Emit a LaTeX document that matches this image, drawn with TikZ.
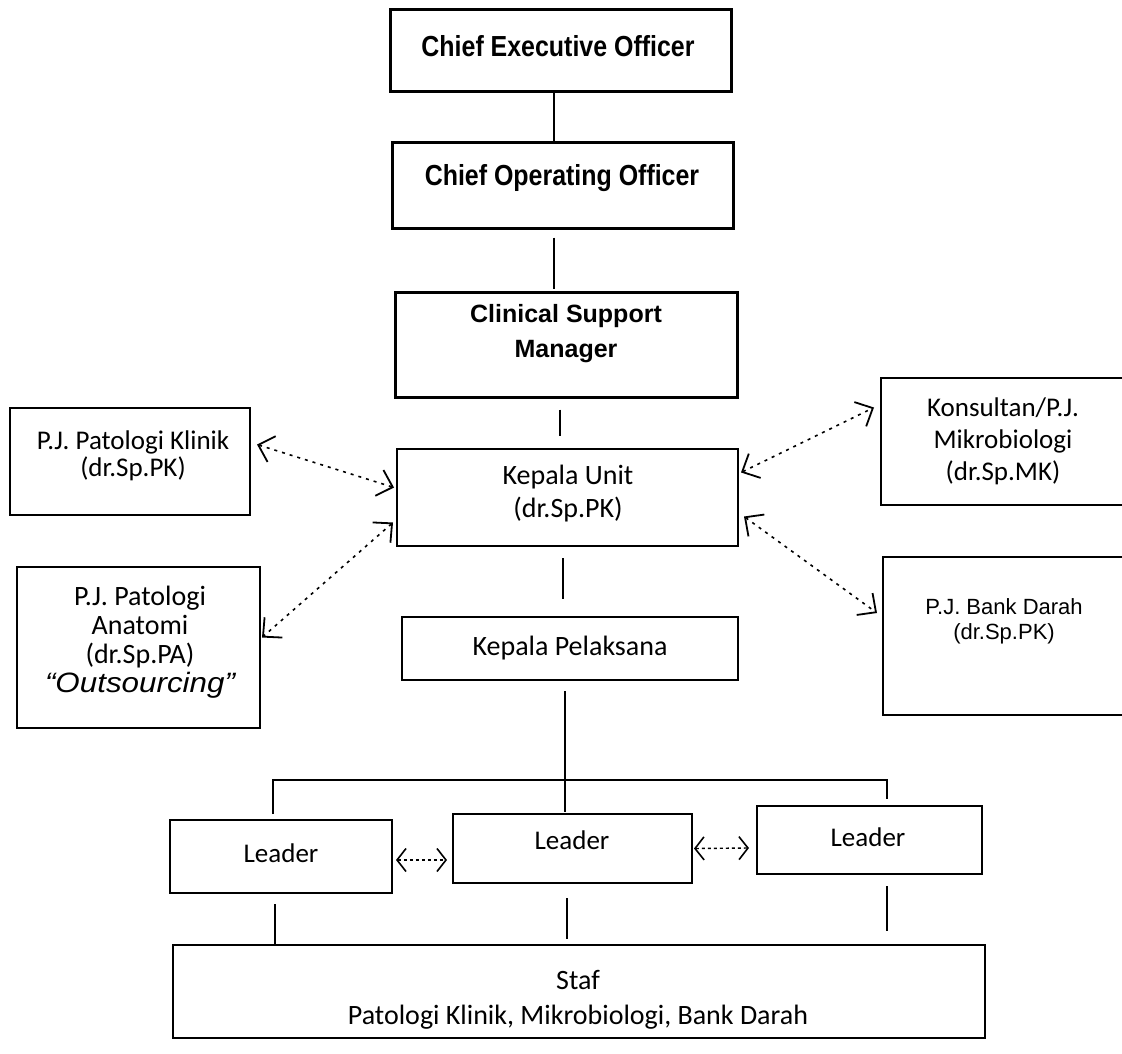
\documentclass[tikz,border=0pt]{standalone}
\usepackage{fontspec}
\setmainfont{Carlito}
\newfontfamily\arialf{Liberation Sans}
\newfontfamily\arialc[FakeStretch=0.86]{Liberation Sans}
\newfontfamily\arialw[FakeStretch=1.12]{Liberation Sans}
\usetikzlibrary{arrows.meta,calc}
\begin{document}
\begin{tikzpicture}[x=1pt,y=-1pt,
  box/.style={draw, line width=2pt, inner sep=0pt},
  topbox/.style={draw, line width=3pt, inner sep=0pt},
  txt/.style={align=center, inner sep=0pt},
  conn/.style={line width=2pt},
  barb/.tip={Straight Barb[length=14pt,width=27pt,line width=1.8pt]},
  sbarb/.tip={Straight Barb[length=9pt,width=23pt,line width=1.6pt]},
  darr/.style={line width=1.6pt, dash pattern=on 3pt off 5pt, barb-barb},
  larr/.style={line width=1.4pt, dash pattern=on 3pt off 3pt, sbarb-sbarb},
]
\useasboundingbox (0,0) rectangle (1122,1054);

% ---------- boxes ----------
\node[topbox, minimum width=341pt, minimum height=82pt]  (ceo)  at (560.5,51)   {};
\node[topbox, minimum width=341pt, minimum height=85pt]  (coo)  at (562.5,185.5) {};
\node[topbox, minimum width=342pt, minimum height=105pt] (csm)  at (566,344.5)  {};
\node[box, minimum width=341pt, minimum height=97pt]     (ku)   at (567.5,497.5) {};
\node[box, minimum width=336pt, minimum height=63pt]     (kp)   at (570,648.5)  {};
\node[box, minimum width=240pt, minimum height=107pt]    (pk)   at (130,461.5)  {};
\node[box, minimum width=243pt, minimum height=161pt]    (pa)   at (138.5,647.5) {};
\node[box, minimum width=244pt, minimum height=127pt]    (kons) at (1003,441.5) {};
\node[box, minimum width=242pt, minimum height=158pt]    (bd)   at (1004,636)   {};
\node[box, minimum width=222pt, minimum height=73pt]     (l1)   at (281,856.5)  {};
\node[box, minimum width=239pt, minimum height=69pt]     (l2)   at (572.5,848.5) {};
\node[box, minimum width=225pt, minimum height=68pt]     (l3)   at (869.5,840)  {};
\node[box, minimum width=812pt, minimum height=93pt]     (staf) at (579,991.5)  {};

% ---------- texts ----------
\node[txt, font=\arialc\bfseries\fontsize{29}{34}\selectfont] (ceot) at (558,46) {Chief Executive Officer};
\node[txt, font=\arialc\bfseries\fontsize{29}{34}\selectfont] (coot) at (562,178) {Chief Operating Officer};
\node[txt, font=\arialf\bfseries\fontsize{25}{35}\selectfont] (csmt) at (566,334) {Clinical Support\\Manager};
\node[txt, font=\fontsize{28}{33}\selectfont] (kut) at (568,494) {Kepala Unit\\(dr.Sp.PK)};
\node[txt, font=\fontsize{28}{33}\selectfont] (kpt) at (570,648) {Kepala Pelaksana};
\node[txt, font=\fontsize{27}{27}\selectfont] (pkt) at (133,456) {P.J. Patologi Klinik\\(dr.Sp.PK)};
\node[txt, font=\fontsize{28}{29}\selectfont] (pat) at (140,642) {P.J. Patologi\\Anatomi\\(dr.Sp.PA)\\{\arialw\itshape “Outsourcing”}};
\node[txt, font=\fontsize{27}{32}\selectfont] (konst) at (1003,441) {Konsultan/P.J.\\Mikrobiologi\\(dr.Sp.MK)};
\node[txt, font=\arialf\fontsize{22}{25}\selectfont] (bdt) at (1004,621) {P.J. Bank Darah\\(dr.Sp.PK)};
\node[txt, font=\fontsize{27}{30}\selectfont] (l1t) at (281,853) {Leader};
\node[txt, font=\fontsize{27}{30}\selectfont] (l2t) at (572,840) {Leader};
\node[txt, font=\fontsize{27}{30}\selectfont] (l3t) at (868,837) {Leader};
\node[txt, font=\fontsize{28}{35}\selectfont] (staft) at (578,1000) {Staf\\Patologi Klinik, Mikrobiologi, Bank Darah};

% ---------- solid connectors ----------
\draw[conn] ([xshift=-7pt]ceo.south) -- ([xshift=-7pt]ceo.south |- coo.north);
\draw[conn, shorten <=8pt, shorten >=2pt] ([xshift=-9pt]coo.south) -- ([xshift=-9pt]coo.south |- csm.north);
\draw[conn, shorten <=11pt, shorten >=12pt] ([xshift=-6pt]csm.south) -- ([xshift=-6pt]csm.south |- ku.north);
\draw[conn, shorten <=11pt, shorten >=17pt] ([xshift=-5pt]ku.south) -- ([xshift=-5pt]ku.south |- kp.north);
\coordinate (bus) at (565,780);
\draw[conn, shorten <=10pt, shorten >=1pt] ([xshift=-5pt]kp.south) -- ([xshift=-5pt]kp.south |- l2.north);
\draw[conn, shorten <=5pt, shorten >=6pt] ([xshift=-8pt]l1.north) |- (bus) -| ([xshift=17.5pt]l3.north);
\draw[conn, shorten <=10pt] ([xshift=-6pt]l1.south) -- ([xshift=-6pt]l1.south |- staf.north);
\draw[conn, shorten <=14pt, shorten >=5pt] ([xshift=-5.5pt]l2.south) -- ([xshift=-5.5pt]l2.south |- staf.north);
\draw[conn, shorten <=11pt, shorten >=13pt] ([xshift=17.5pt]l3.south) -- ([xshift=17.5pt]l3.south |- staf.north);

% ---------- dotted two-way arrows ----------
\draw[darr] ($(pk.east)+(6,-17)$) -- ($(ku.west)+(-2,-10)$);
\draw[darr] ($(ku.west)+(-3,25)$) -- ($(pa.east)+(1,-10)$);
\draw[darr] ($(ku.east)+(2,-25)$) -- ($(kons.west)+(-6,-34)$);
\draw[darr] ($(ku.east)+(5,19)$) -- ($(bd.west)+(-5,-23)$);
\draw[larr] ($(l1.east)+(3,3.5)$) -- ($(l2.west)+(-5,11.5)$);
\draw[larr] ($(l2.east)+(1,0)$) -- ($(l3.west)+(-7,8)$);
\end{tikzpicture}
\end{document}
